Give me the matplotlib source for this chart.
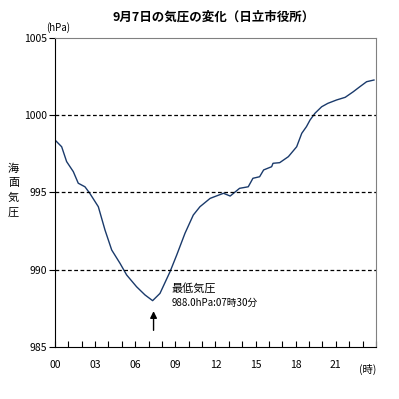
import matplotlib
matplotlib.use("Agg")
import matplotlib.pyplot as plt
import numpy as np

plt.rcParams['font.family'] = ['Noto Sans CJK JP', 'DejaVu Sans']

# hour of day, sea level pressure (hPa)
hours = [0.0, 0.5, 0.87, 1.37, 1.74, 2.24, 2.6, 3.24, 3.74, 4.24, 4.86, 5.36,
         6.1, 6.73, 7.3, 7.85, 8.6, 9.1, 9.72, 10.34, 10.84, 11.6, 12.6, 13.1,
         13.8, 14.45, 14.8, 15.3, 15.6, 16.2, 16.3, 16.8, 17.45, 18.07, 18.45,
         18.8, 19.07, 19.44, 19.94, 20.4, 21.06, 21.7, 22.3, 22.8, 23.3, 23.85]
pressure = [998.4, 997.96, 997.0, 996.35, 995.6, 995.37, 994.95, 994.08, 992.57,
            991.28, 990.42, 989.66, 988.9, 988.37, 988.0, 988.47, 989.87, 990.95,
            992.36, 993.54, 994.08, 994.62, 994.95, 994.77, 995.27, 995.37,
            995.92, 996.02, 996.46, 996.67, 996.89, 996.93, 997.32, 997.96,
            998.83, 999.26, 999.69, 1000.13, 1000.55, 1000.77, 1000.99, 1001.16,
            1001.52, 1001.85, 1002.17, 1002.28]

x_ticks = [0, 3, 6, 9, 12, 15, 18, 21]
x_labels = ["00", "03", "06", "09", "12", "15", "18", "21"]
y_ticks = [985, 990, 995, 1000, 1005]

min_time = 7.37
min_label = "988.0hPa:07時30分"

fig = plt.figure(figsize=(3.99, 3.99), dpi=100)
ax = fig.add_axes([0.1378, 0.1303, 0.8045, 0.7745])

ax.plot(hours, pressure, color='#1a3a6b', linewidth=1.0)

for y in [990, 995, 1000]:
    ax.axhline(y, color='black', linestyle=(0, (3, 2)), linewidth=0.9)

ax.set_xlim(0, 24)
ax.set_ylim(985, 1005)
ax.set_xticks(x_ticks)
ax.set_xticklabels(x_labels, fontsize=7.5)
ax.set_xticks(range(0, 25), minor=True)
ax.set_yticks(y_ticks)
ax.set_yticklabels([str(v) for v in y_ticks], fontsize=7.5)

ax.tick_params(axis='x', which='both', direction='in', length=4, width=0.8, pad=9)
ax.tick_params(axis='y', direction='out', length=4, width=0.8, pad=2)

for side in ['top', 'right']:
    ax.spines[side].set_color('#808080')
for side in ['left', 'bottom']:
    ax.spines[side].set_color('black')

fig.text(0.535, 0.957, "9月7日の気圧の変化（日立市役所）", ha='center', va='center',
         fontsize=9, fontweight='bold')
fig.text(0.145, 0.932, "(hPa)", ha='center', va='center', fontsize=7)
fig.text(0.922, 0.075, "(時)", ha='center', va='center', fontsize=7.5)

# vertical y label, one character per line
ylab = "海面気圧"
for i, ch in enumerate(ylab):
    fig.text(0.034, 0.578 - i * 0.037, ch, ha='center', va='center', fontsize=8)

ax.text(8.7, 988.8, "最低気圧", fontsize=8, ha='left', va='center')
ax.text(8.7, 987.85, min_label, fontsize=7, ha='left', va='center')
ax.annotate("", xy=(min_time, 987.5), xytext=(min_time, 985.9),
            arrowprops=dict(arrowstyle='-|>', color='black', lw=1.0,
                            mutation_scale=10))

fig.savefig("out.png", dpi=100)
